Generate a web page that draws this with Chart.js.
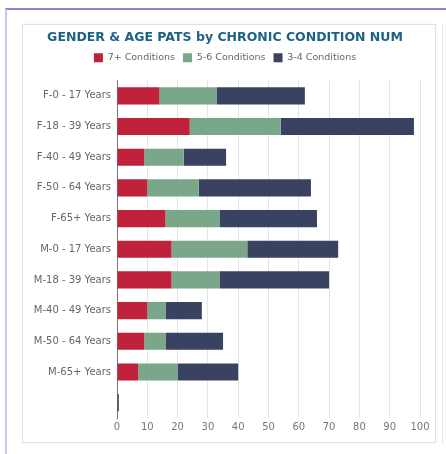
<!DOCTYPE html>
<html>
<head>
<meta charset="utf-8">
<script src="https://cdn.jsdelivr.net/npm/chart.js@4/dist/chart.umd.min.js"></script>
<style>
  html, body { margin: 0; padding: 0; background: #fff; }
  #wrap { position: relative; width: 446px; height: 454px; overflow: hidden; }
  #outer { position: absolute; left: 5px; top: 8px; width: 446px; height: 460px;
           border-top: 2px solid #8a88d0; border-left: 2px solid #c8c8ee; }
  #panel { position: absolute; left: 22px; top: 24px; width: 412px; height: 417px;
           border: 1px solid #e2e2e2; box-shadow: 0 0 2px #eee; background: #fff; }
  #right { position: absolute; left: 442px; top: 24px; width: 1px; height: 420px; background: #e8e8ee; }
  canvas { position: absolute; left: 0; top: 0; }
</style>
</head>
<body>
<div id="wrap">
  <div id="outer"></div>
  <div id="right"></div>
  <div id="panel"></div>
  <canvas id="myChart" width="446" height="454"></canvas>
</div>
<script>
"use strict";

// categories and series
const groups = ['F-0 - 17 Years', 'F-18 - 39 Years', 'F-40 - 49 Years', 'F-50 - 64 Years', 'F-65+ Years',
                'M-0 - 17 Years', 'M-18 - 39 Years', 'M-40 - 49 Years', 'M-50 - 64 Years', 'M-65+ Years', ''];
const cond7plus = [14, 24, 9, 10, 16, 18, 18, 10, 9, 7, 0];
const cond5to6 = [19, 30, 13, 17, 18, 25, 16, 6, 7, 13, 0];
const cond3to4 = [29, 44, 14, 37, 32, 30, 36, 12, 19, 20, 0.6];
const xTicks = [0, 10, 20, 30, 40, 50, 60, 70, 80, 90, 100];

Chart.defaults.font.family = 'DejaVu Sans';
Chart.defaults.font.size = 9;
Chart.defaults.color = '#666';

// a bit of extra room under the legend
const legendGap = {
    id: 'legendGap',
    beforeInit(chart) {
        const fit = chart.legend.fit;
        chart.legend.fit = function () {
            fit.bind(chart.legend)();
            this.height += 8;
        };
    }
};

let ctx = document.getElementById('myChart').getContext('2d');

let condChart = new Chart(ctx, {
    type: 'bar',
    data: {
        labels: groups,
        datasets: [{
            label: '7+ Conditions',
            data: cond7plus,
            backgroundColor: '#c0213b'
        }, {
            label: '5-6 Conditions',
            data: cond5to6,
            backgroundColor: '#7aa78a'
        }, {
            label: '3-4 Conditions',
            data: cond3to4,
            backgroundColor: '#3a4262'
        }]
    },
    plugins: [legendGap],
    options: {
        indexAxis: 'y',
        responsive: false,
        animation: false,
        barPercentage: 0.62,
        categoryPercentage: 0.9,
        layout: { padding: { top: 30, right: 26, bottom: 18, left: 30 } },
        plugins: {
            title: {
                display: true,
                text: 'GENDER & AGE PATS by CHRONIC CONDITION NUM',
                color: '#1d6283',
                font: { size: 12.5, weight: 'bold' },
                padding: { top: 0, bottom: 0 }
            },
            legend: {
                labels: {
                    boxWidth: 9,
                    boxHeight: 9,
                    padding: 8,
                    color: '#666',
                    font: { size: 9.5 }
                }
            },
            tooltip: { enabled: false }
        },
        scales: {
            x: {
                stacked: true,
                min: 0,
                max: 100,
                afterBuildTicks: (axis) => { axis.ticks = xTicks.map(v => ({ value: v })); },
                grid: { color: '#e4e4e4', drawTicks: false },
                border: { display: false },
                ticks: { padding: 3, color: '#777', font: { size: 10 } }
            },
            y: {
                stacked: true,
                grid: { display: false, drawTicks: false },
                border: { display: true, color: '#777' },
                afterFit: (scale) => { scale.width = 87; },
                ticks: { padding: 6, color: '#666', font: { size: 10 } }
            }
        }
    }
});
</script>
</body>
</html>
